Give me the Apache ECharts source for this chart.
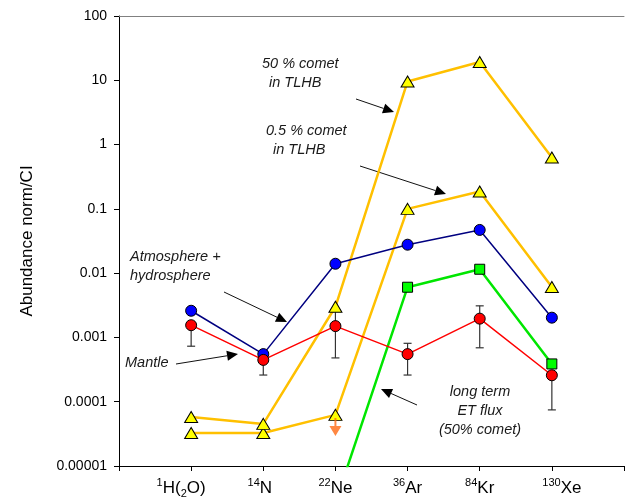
<!DOCTYPE html>
<html>
<head>
<meta charset="utf-8">
<script src="https://cdn.jsdelivr.net/npm/echarts@6/dist/echarts.min.js"></script>
<style>
  html, body { margin: 0; padding: 0; background: #fff; }
  #chart { width: 627px; height: 500px; }
</style>
</head>
<body>
<div id="chart"></div>
<script>
// 横轴：同位素（位置 1..6）
const positions = [1, 2, 3, 4, 5, 6]
const xLabels = [
  '{sup|1}{main|H(}{sub|2}{main|O)}{gap| }',
  '{sup|14}{main|N}{gapS| }',
  '{sup|22}{main|Ne}',
  '{sup|36}{main|Ar}',
  '{sup|84}{main|Kr}',
  '{gap| }{sup|130}{main|Xe}'
]
const yTickLabels = ['0.00001', '0.0001', '0.001', '0.01', '0.1', '1', '10', '100']

// 数据
const atmosphere = [0.0026, 0.00055, 0.014, 0.0277, 0.047, 0.00203]
const mantle = [0.00155, 0.000447, 0.0015, 0.00055, 0.00196, 0.000258]
const mantleLow = [0.00073, 0.00026, 0.00048, 0.00026, 0.00069, 0.0000746]
const mantleHigh = [0.00155, 0.000447, 0.0027, 0.00081, 0.0031, 0.000258]
const comet50 = [0.000058, 0.0000452, 0.003, 9.6, 19.3, 0.63]
const comet05 = [0.0000327, 0.0000327, 0.0000624, 0.1, 0.186, 0.0061]
const etFlux = [null, null, 0.0000027, 0.00604, 0.0115, 0.000387]
const neUpperLimit = [0.0000405]

function pairs(vals) {
  const out = []
  for (let i = 0; i < vals.length; i++) {
    if (vals[i] != null) out.push([positions[i], vals[i]])
  }
  return out
}

const font = 'Arial, "Liberation Sans", sans-serif'

// 注释箭头
function arrow(x1, y1, x2, y2) {
  const ang = Math.atan2(y2 - y1, x2 - x1)
  const len = 11, half = 5
  const bx = x2 - len * Math.cos(ang), by = y2 - len * Math.sin(ang)
  const px = -Math.sin(ang) * half, py = Math.cos(ang) * half
  return [
    { type: 'line', shape: { x1: x1, y1: y1, x2: bx, y2: by }, style: { stroke: '#111', lineWidth: 1 } },
    { type: 'polygon', shape: { points: [[x2, y2], [bx + px, by + py], [bx - px, by - py]] }, style: { fill: '#000' } }
  ]
}
function note(text, x, y, align) {
  return {
    type: 'text', x: x, y: y,
    style: { text: text, font: 'italic 14.5px ' + font, fill: '#1a1a1a', textAlign: align || 'left', textVerticalAlign: 'middle' }
  }
}

let graphics = [
  note('50 % comet', 262, 64),
  note('in TLHB', 269, 83),
  note('0.5 % comet', 266, 131),
  note('in TLHB', 273, 150),
  note('Atmosphere +', 130, 257),
  note('hydrosphere', 130, 276),
  note('Mantle', 125, 363),
  note('long term', 480, 392, 'center'),
  note('ET flux', 480, 411, 'center'),
  note('(50% comet)', 480, 430, 'center')
]
graphics = graphics
  .concat(arrow(356, 99, 394, 112))
  .concat(arrow(360, 166, 446, 194))
  .concat(arrow(224, 292, 287, 322))
  .concat(arrow(176, 364, 238, 354))
  .concat(arrow(417, 405, 381, 389))

const errData = positions.map((p, i) => [p, mantleLow[i], mantleHigh[i]])

const option = {
  animation: false,
  backgroundColor: '#fff',
  grid: { left: 119, right: 2, top: 16, bottom: 34 },
  xAxis: [{
    type: 'value', min: 0, max: 7, interval: 1,
    axisLine: { lineStyle: { color: '#000', width: 1 } },
    axisTick: { length: 5, lineStyle: { color: '#000' } },
    splitLine: { show: false },
    axisLabel: {
      margin: 11,
      formatter: v => (v >= 1 && v <= 6 ? xLabels[v - 1] : ''),
      rich: {
        main: { fontSize: 17, fontFamily: font, color: '#000', lineHeight: 22 },
        sup: { fontSize: 11, fontFamily: font, color: '#000', verticalAlign: 'top', lineHeight: 22 },
        sub: { fontSize: 11, fontFamily: font, color: '#000', verticalAlign: 'bottom', lineHeight: 22 },
        gap: { fontSize: 11, width: 20 },
        gapS: { fontSize: 11, width: 7 }
      }
    }
  }, {
    type: 'value', min: 0, max: 7, position: 'top',
    axisLine: { show: true, lineStyle: { color: '#808080', width: 1 } },
    axisTick: { show: false }, axisLabel: { show: false }, splitLine: { show: false }
  }],
  yAxis: {
    type: 'log', logBase: 10, min: 0.00001, max: 100, splitNumber: 7,
    name: 'Abundance norm/CI', nameLocation: 'middle', nameRotate: 90, nameGap: 83,
    nameTextStyle: { fontSize: 17, fontFamily: font, color: '#000' },
    axisLine: { show: true, lineStyle: { color: '#000', width: 1 } },
    axisTick: { show: true, length: 5, lineStyle: { color: '#000' } },
    splitLine: { show: false },
    axisLabel: {
      fontSize: 14, fontFamily: font, color: '#000', margin: 12,
      formatter: v => yTickLabels[Math.round(Math.log10(v)) + 5]
    }
  },
  graphic: graphics,
  series: [
    {
      name: 'mantle error', type: 'custom', z: 1,
      data: errData,
      renderItem: function (params, api) {
        const x = api.value(0)
        const lo = api.coord([x, api.value(1)])
        const hi = api.coord([x, api.value(2)])
        const c = 4
        const st = { stroke: '#333', lineWidth: 1.2 }
        return {
          type: 'group',
          children: [
            { type: 'line', shape: { x1: lo[0], y1: lo[1], x2: hi[0], y2: hi[1] }, style: st },
            { type: 'line', shape: { x1: lo[0] - c, y1: lo[1], x2: lo[0] + c, y2: lo[1] }, style: st },
            { type: 'line', shape: { x1: hi[0] - c, y1: hi[1], x2: hi[0] + c, y2: hi[1] }, style: st }
          ]
        }
      }
    },
    {
      name: '0.5 % comet', type: 'line', z: 2, data: pairs(comet05),
      symbol: 'triangle', symbolSize: [13, 11],
      lineStyle: { color: '#ffc000', width: 2.5 },
      itemStyle: { color: '#ffff00', borderColor: '#000', borderWidth: 1 }
    },
    {
      name: '50 % comet', type: 'line', z: 2, data: pairs(comet50),
      symbol: 'triangle', symbolSize: [13, 11],
      lineStyle: { color: '#ffc000', width: 2.5 },
      itemStyle: { color: '#ffff00', borderColor: '#000', borderWidth: 1 }
    },
    {
      name: 'ET flux', type: 'line', z: 3, data: pairs(etFlux), clip: true,
      symbol: 'rect', symbolSize: 10,
      lineStyle: { color: '#00e600', width: 2.5 },
      itemStyle: { color: '#00ff00', borderColor: '#000', borderWidth: 1 }
    },
    {
      name: 'Atmosphere + hydrosphere', type: 'line', z: 4, data: pairs(atmosphere),
      symbol: 'circle', symbolSize: 11,
      lineStyle: { color: '#000080', width: 1.5 },
      itemStyle: { color: '#0000ff', borderColor: '#000', borderWidth: 1 }
    },
    {
      name: 'Mantle', type: 'line', z: 4, data: pairs(mantle),
      symbol: 'circle', symbolSize: 11,
      lineStyle: { color: '#ff0000', width: 1.5 },
      itemStyle: { color: '#ff0000', borderColor: '#000', borderWidth: 1 }
    },
    {
      name: 'Ne upper limit', type: 'scatter', z: 3,
      data: [[positions[2], neUpperLimit[0]]],
      symbol: 'path://M5,0 L7,0 L7,8 L12,8 L6,18 L0,8 L5,8 Z', symbolSize: [12, 18],
      itemStyle: { color: '#ff6a13' }
    }
  ]
}

const chart = echarts.init(document.getElementById('chart'))
chart.setOption(option)
</script>
</body>
</html>
